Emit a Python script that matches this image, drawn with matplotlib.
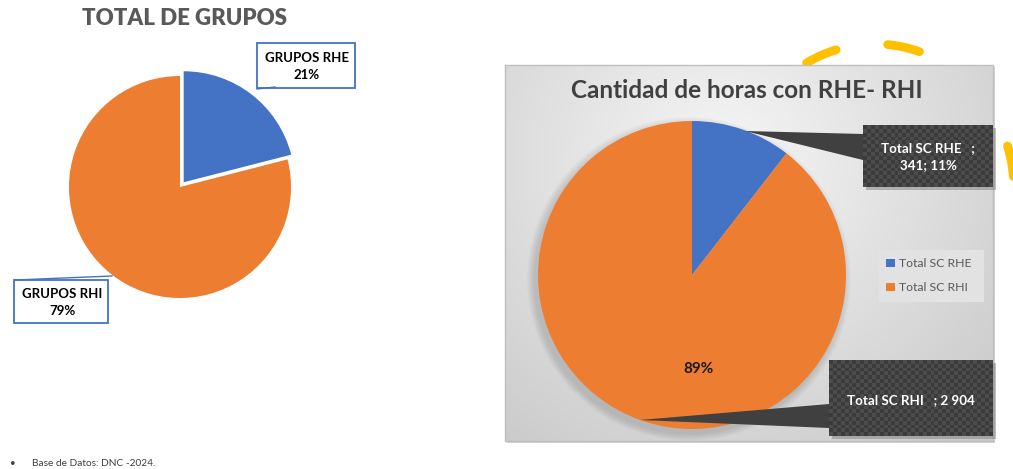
import numpy as np
import matplotlib.pyplot as plt
from matplotlib.patches import Rectangle, Polygon, Arc, Circle

plt.rcParams['font.family'] = ['Lato', 'DejaVu Sans']

W, H = 1013, 469

# datos
grupos_labels = ['GRUPOS RHE', 'GRUPOS RHI']
grupos_pct = [21, 79]
horas_labels = ['Total SC RHE', 'Total SC RHI']
horas_valores = [341, 2904]

azul = '#4472C4'
naranja = '#ED7D31'
oscuro = '#404040'


def Y(y):
    # coordenadas en pixeles con y hacia abajo -> y hacia arriba
    return H - y


fig = plt.figure(figsize=(W / 100, H / 100), dpi=100)
ax = fig.add_axes([0, 0, 1, 1])

# ---- grafico izquierdo: total de grupos ----
ax.text(185, Y(18), 'TOTAL DE GRUPOS', ha='center', va='center', fontsize=16,
        fontweight='heavy', color='#595959')
ax.pie(grupos_pct, colors=[azul, naranja], startangle=90, counterclock=False,
       center=(180, Y(187)), radius=111, explode=[6, 0],
       wedgeprops=dict(linewidth=0, zorder=3))

total_g = sum(grupos_pct)
cajas_g = [(257, 43, 355, 88), (14, 280, 108, 323)]
for (x0, y0, x1, y1), lab, v in zip(cajas_g, grupos_labels, grupos_pct):
    ax.add_patch(Rectangle((x0, Y(y1)), x1 - x0, y1 - y0, facecolor='white',
                           edgecolor=azul, lw=1.3, zorder=6))
    ax.text((x0 + x1) / 2 + 1, Y((y0 + y1) / 2 + 1), f'{lab}\n{round(100 * v / total_g)}%',
            ha='center', va='center', fontsize=9.5, fontweight='bold',
            color='black', linespacing=1.55, zorder=7)
ax.plot([257, 275], [Y(89), Y(87)], color=azul, lw=1, zorder=6)
ax.plot([15, 112], [Y(280), Y(276)], color=azul, lw=1, zorder=6)

# ---- decoracion amarilla (elipse punteada detras del recuadro) ----
for a in np.arange(5.6, 180, 33.3):
    ax.add_patch(Arc((875, Y(190)), 278, 292, theta1=a, theta2=a + 12.8,
                     color='#FFC000', lw=6.3, capstyle='round', zorder=0.5))

# ---- grafico derecho: cantidad de horas ----
bx0, by0, bx1, by1 = 505, 65, 993, 441
gx = np.linspace(0, 1, 300)
gy = np.linspace(0, 1, 240)
GX, GY = np.meshgrid(gx, gy)
d = np.sqrt(((GX - 0.45) / 0.75) ** 2 + ((GY - 0.25) / 0.95) ** 2)
vals = 0.965 - 0.17 * np.clip(d, 0, 1)
ax.add_patch(Rectangle((bx0 + 2, Y(by1) - 2), bx1 - bx0, by1 - by0,
                       facecolor='#A6A6A6', edgecolor='none', alpha=0.5, zorder=0.8))
ax.imshow(np.dstack([vals] * 3), extent=(bx0, bx1, Y(by1), Y(by0)), origin='upper',
          aspect='auto', interpolation='bilinear', zorder=1)
ax.add_patch(Rectangle((bx0, Y(by1)), bx1 - bx0, by1 - by0, fill=False,
                       edgecolor='#BFBFBF', lw=1, zorder=2))

ax.text(747, Y(90), 'Cantidad de horas con RHE- RHI', ha='center', va='center',
        fontsize=17.5, fontweight='bold', color=oscuro, zorder=6)

pc = (692, Y(275))
pr = 154
for k in range(8):
    ax.add_patch(Circle((pc[0] - 3, pc[1] - 4), pr + 8 - k, color='black',
                        alpha=0.014, lw=0, zorder=2.5))
ax.pie(horas_valores, colors=[azul, naranja], startangle=90, counterclock=False,
       center=pc, radius=pr, wedgeprops=dict(linewidth=0, zorder=3))

total_h = sum(horas_valores)
ax.text(698, Y(369), f'{round(100 * horas_valores[1] / total_h)}%', ha='center',
        va='center', fontsize=11, fontweight='bold', color='#1A1A1A', zorder=6)


def caja_oscura(x0, y0, x1, y1, punta):
    ax.add_patch(Polygon(punta, closed=True, facecolor=oscuro, edgecolor='none', zorder=4))
    ax.add_patch(Rectangle((x0 + 3, Y(y1) - 3), x1 - x0, y1 - y0, facecolor='#7F7F7F',
                           edgecolor='none', alpha=0.5, zorder=4.5))
    nx = int((x1 - x0) / 4) + 1
    ny = int((y1 - y0) / 4) + 1
    cb = np.add.outer(np.arange(ny), np.arange(nx)) % 2
    col = np.where(cb[..., None] == 1, [0.30, 0.30, 0.30], [0.235, 0.235, 0.235])
    ax.imshow(col, extent=(x0, x1, Y(y1), Y(y0)), origin='upper', aspect='auto',
              interpolation='nearest', zorder=5)


caja_oscura(863, 125, 993, 187, [(745, Y(131)), (863, Y(134)), (863, Y(160))])
caja_oscura(829, 360, 993, 436, [(640, Y(420)), (829, Y(404)), (829, Y(428))])

pct_rhe = round(100 * horas_valores[0] / total_h)
ax.text(928, Y(157), f'{horas_labels[0]}   ;\n{horas_valores[0]}; {pct_rhe}%',
        ha='center', va='center', fontsize=9.6, fontweight='bold', color='white',
        linespacing=1.5, zorder=7)
ax.text(911, Y(400), f'{horas_labels[1]}   ; {horas_valores[1]:,}'.replace(',', ' '),
        ha='center', va='center', fontsize=9.6, fontweight='bold', color='white', zorder=7)

# leyenda
ax.add_patch(Rectangle((879, Y(302)), 105, 52, facecolor='#E2E2E2', edgecolor='none', zorder=4))
for yy, lab, c in zip([263, 287], horas_labels, [azul, naranja]):
    ax.add_patch(Rectangle((886, Y(yy + 4)), 8.5, 8.5, facecolor=c, edgecolor='none', zorder=5))
    ax.text(899, Y(yy), lab, ha='left', va='center', fontsize=8.8, color='#595959', zorder=5)

# nota al pie
ax.text(10, Y(463), '\u2022', ha='left', va='center', fontsize=7, color=oscuro)
ax.text(32, Y(463), 'Base de Datos: DNC -2024.', ha='left', va='center',
        fontsize=7.3, color=oscuro)

ax.set_xlim(0, W)
ax.set_ylim(0, H)
ax.set_aspect('auto')
ax.axis('off')

fig.savefig('out.png', dpi=100)
